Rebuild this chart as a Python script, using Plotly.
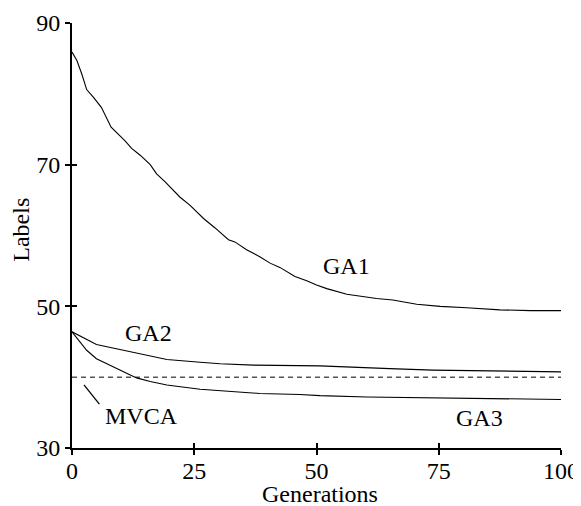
import plotly.graph_objects as go

ga1_x = [0, 1, 2, 3, 4.4, 6, 8, 10.8, 12.2, 14, 16, 17.3, 19, 20.4, 22.1, 24.1, 26.9, 29.2, 32, 33.3,
         35.7, 38.4, 40.5, 42.5, 45.6, 48, 50, 52.1, 56.2, 62.3, 65.6, 70.5, 75.3, 80.7, 87.5, 93.7, 100]
ga1_y = [85.9, 84.7, 82.8, 80.6, 79.5, 78.1, 75.3, 73.4, 72.3, 71.3, 70.0, 68.7, 67.6, 66.6, 65.4, 64.3,
         62.4, 61.1, 59.4, 59.1, 58.0, 57.0, 56.1, 55.5, 54.2, 53.6, 53.0, 52.5, 51.7, 51.1, 50.9, 50.3,
         50.0, 49.8, 49.5, 49.4, 49.4]

ga2_x = [0, 5, 9.8, 15.3, 19.4, 26.2, 30.3, 37.1, 46.6, 50.7, 65, 73.8, 100]
ga2_y = [46.4, 44.6, 43.9, 43.1, 42.5, 42.1, 41.9, 41.7, 41.6, 41.6, 41.2, 41.0, 40.75]

ga3_x = [0, 3, 5, 8.4, 13.2, 16, 19.4, 26.2, 30.3, 38.4, 46.6, 50.7, 60.3, 73.9, 93.7, 100]
ga3_y = [46.4, 43.8, 42.6, 41.5, 39.9, 39.4, 38.9, 38.3, 38.1, 37.7, 37.55, 37.4, 37.2, 37.1, 36.9, 36.85]

mvca_x = [0, 100]
mvca_y = [40, 40]

x_ticks = [0, 25, 50, 75, 100]
y_ticks = [30, 50, 70, 90]

FONT = "Liberation Serif"

fig = go.Figure()
line = dict(color="black", width=1.1)
fig.add_trace(go.Scatter(x=ga1_x, y=ga1_y, mode="lines", line=line, name="GA1"))
fig.add_trace(go.Scatter(x=ga2_x, y=ga2_y, mode="lines", line=line, name="GA2"))
fig.add_trace(go.Scatter(x=ga3_x, y=ga3_y, mode="lines", line=line, name="GA3"))
fig.add_trace(go.Scatter(x=mvca_x, y=mvca_y, mode="lines",
                         line=dict(color="black", width=1, dash="5px,4px"), name="MVCA"))
# invisible trace on overlay axes so the inner ticks render
fig.add_trace(go.Scatter(x=[0], y=[30], xaxis="x2", yaxis="y2", mode="markers",
                         marker=dict(opacity=0), showlegend=False, hoverinfo="skip"))

axis_common = dict(showgrid=False, zeroline=False, showline=True, linecolor="black", linewidth=2,
                   ticks="outside", ticklen=5, tickwidth=1.5, tickcolor="black", automargin=False,
                   tickfont=dict(family=FONT, size=24, color="black"))

# page body adds an 8px margin, so the figure is sized 573x498
fig.update_layout(
    width=573, height=498,
    margin=dict(l=64, r=20, t=15, b=58, autoexpand=False),
    paper_bgcolor="white", plot_bgcolor="white",
    showlegend=False,
    xaxis=dict(range=[0, 100], tickvals=x_ticks, ticklabelstandoff=-5, **axis_common),
    yaxis=dict(range=[30, 90], tickvals=y_ticks, **axis_common),
    xaxis2=dict(range=[0, 100], tickvals=x_ticks, overlaying="x", showticklabels=False,
                ticks="inside", ticklen=5, tickwidth=1.5, tickcolor="black", automargin=False,
                showgrid=False, zeroline=False, showline=False, side="bottom"),
    yaxis2=dict(range=[30, 90], tickvals=y_ticks, overlaying="y", showticklabels=False,
                ticks="inside", ticklen=5, tickwidth=1.5, tickcolor="black", automargin=False,
                showgrid=False, zeroline=False, showline=False, side="left"),
    font=dict(family=FONT, size=24, color="black"),
)

labels = [("GA1", 56.2, 55.7), ("GA2", 15.6, 46.2), ("MVCA", 14.2, 34.5), ("GA3", 83.4, 34.3)]
for text, x, y in labels:
    fig.add_annotation(x=x, y=y, text=text, showarrow=False, xref="x", yref="y",
                       font=dict(family=FONT, size=24, color="black"))

fig.add_shape(type="line", xref="x", yref="y", x0=2.45, y0=38.9, x1=5.6, y1=36.2,
              line=dict(color="black", width=1.3))

fig.add_annotation(text="Generations", xref="paper", yref="paper", x=0.507, y=-0.108,
                   yanchor="middle", xanchor="center", showarrow=False,
                   font=dict(family=FONT, size=24, color="black"))
fig.add_annotation(text="Labels", xref="paper", yref="paper", x=-0.106, y=0.514,
                   textangle=-90, xanchor="center", yanchor="middle", showarrow=False,
                   font=dict(family=FONT, size=24, color="black"))

fig.write_html("out.html")
